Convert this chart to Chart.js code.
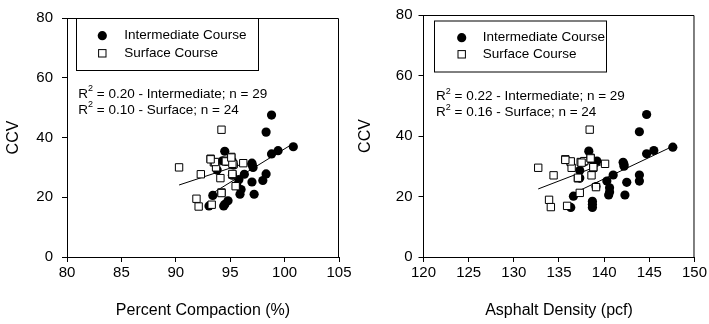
<!DOCTYPE html>
<html>
<head>
<meta charset="utf-8">
<script src="https://cdn.jsdelivr.net/npm/chart.js@4.4.0/dist/chart.umd.min.js"></script>
<style>
  html, body { margin: 0; padding: 0; background: #fff; }
  #wrap { position: relative; width: 709px; height: 324px; }
  canvas { position: absolute; top: 0; }
</style>
</head>
<body>
<div id="wrap">
  <canvas id="left" width="354" height="324" style="left:0"></canvas>
  <canvas id="right" width="355" height="324" style="left:354px"></canvas>
</div>
<script>
// series / labels
const seriesNames = ['Intermediate Course', 'Surface Course']
const yTitle = 'CCV'
const leftTitle = 'Percent Compaction (%)'
const rightTitle = 'Asphalt Density (pcf)'
const leftNotes = [['0.20', 'Intermediate', '29'], ['0.10', 'Surface', '24']]
const rightNotes = [['0.22', 'Intermediate', '29'], ['0.16', 'Surface', '24']]

// left chart: percent compaction vs CCV
const compInterX = [98.8, 98.3, 100.8, 99.4, 98.8, 94.5, 94.3, 95.2, 93.8, 97.0, 97.1, 96.3, 95.8, 98.3, 98.0,
  97.0, 95.9, 97.2, 93.4, 93.05, 94.4, 94.8, 94.6, 95.3, 95.2, 95.6, 97.0, 94.5, 96.0]
const compInterY = [47.5, 41.8, 36.9, 35.6, 34.5, 35.4, 32.2, 32.0, 29.1, 31.4, 30.0, 27.7, 25.9, 27.8, 25.6,
  25.1, 21.0, 21.0, 20.6, 17.1, 17.1, 18.8, 32.0, 30.8, 27.4, 24.0, 31.0, 17.6, 22.6]
const compSurfX = [94.2, 90.3, 92.3, 93.2, 93.5, 93.7, 94.6, 95.1, 95.3, 96.2, 95.2, 94.1, 95.5, 94.2, 91.9,
  92.1, 93.3, 93.6, 94.6, 95.2, 95.1, 93.2, 95.2, 94.2]
const compSurfY = [42.6, 30.0, 27.7, 32.9, 31.7, 30.0, 32.2, 33.5, 31.0, 31.4, 27.6, 26.4, 23.7, 21.6, 19.5,
  16.9, 17.5, 31.8, 32.0, 31.2, 33.3, 32.7, 27.8, 21.4]
const compInterFitX = [93.05, 100.8]
const compInterFitY = [20.6, 38.0]
const compSurfFitX = [90.3, 96.2]
const compSurfFitY = [24.1, 31.2]

// right chart: asphalt density vs CCV
const densInterX = [144.7, 143.9, 147.6, 145.5, 144.7, 138.3, 139.2, 137.3, 142.1, 142.2, 141.0, 140.3, 140.6, 142.5, 140.5,
  142.3, 143.9, 143.9, 136.6, 136.3, 138.7, 138.7, 138.5, 137.8, 140.6, 139.1, 142.2, 138.7, 137.3]
const densInterY = [47.1, 41.4, 36.3, 35.2, 34.1, 35.0, 31.7, 28.6, 31.3, 30.0, 27.1, 25.1, 22.9, 24.7, 20.5,
  20.5, 27.1, 25.1, 20.1, 16.4, 18.4, 16.4, 32.5, 31.5, 21.5, 23.3, 30.6, 17.4, 26.1]
const densSurfX = [138.4, 132.7, 134.4, 135.7, 136.3, 136.4, 137.4, 137.8, 138.5, 138.8, 140.1, 138.6, 137.1, 139.1, 137.3,
  133.9, 134.1, 135.9, 136.3, 137.5, 138.5, 138.8, 137.1, 135.7]
const densSurfY = [42.1, 29.5, 27.0, 32.3, 31.4, 29.5, 31.4, 31.7, 32.8, 29.5, 30.8, 27.0, 26.0, 23.1, 21.2,
  18.9, 16.5, 16.9, 31.6, 31.2, 32.6, 29.7, 26.2, 32.1]
const densInterFitX = [136.3, 147.6]
const densInterFitY = [20.6, 36.6]
const densSurfFitX = [132.7, 140.1]
const densSurfFitY = [22.5, 31.0]

const FONT = "'Liberation Sans', Arial, sans-serif"
Chart.defaults.font.family = FONT
Chart.defaults.color = '#000'

const zip = (xs, ys) => xs.map((x, i) => ({ x: x, y: ys[i] }))

// draws the closed frame, the boxed legend and the R² notes
const extras = {
  id: 'extras',
  afterDraw(chart, args, opts) {
    const ctx = chart.ctx
    const a = chart.chartArea
    ctx.save()
    ctx.strokeStyle = '#000'
    ctx.lineWidth = 1
    ctx.beginPath()
    ctx.moveTo(a.left, a.top + 0.5)
    ctx.lineTo(a.right - 0.5, a.top + 0.5)
    ctx.lineTo(a.right - 0.5, a.bottom)
    ctx.stroke()

    // legend box
    const b = opts.box
    ctx.strokeRect(b[0] + 0.5, b[1] + 0.5, b[2], b[3])
    ctx.fillStyle = '#000'
    ctx.beginPath()
    ctx.arc(opts.markerX, opts.rows[0], 4.6, 0, Math.PI * 2)
    ctx.fill()
    ctx.fillStyle = '#fff'
    ctx.fillRect(opts.markerX - 3.7, opts.rows[1] - 3.7, 7.4, 7.4)
    ctx.strokeRect(opts.markerX - 3.7, opts.rows[1] - 3.7, 7.4, 7.4)
    ctx.fillStyle = '#000'
    ctx.font = '13.5px ' + FONT
    ctx.textBaseline = 'middle'
    ctx.textAlign = 'left'
    ctx.fillText(seriesNames[0], opts.textX, opts.rows[0])
    ctx.fillText(seriesNames[1], opts.textX, opts.rows[1])

    // R² notes
    opts.notes.forEach((n, i) => {
      const y = opts.noteRows[i]
      let x = opts.noteX
      ctx.font = '13.5px ' + FONT
      ctx.fillText('R', x, y)
      x += ctx.measureText('R').width
      ctx.font = '9px ' + FONT
      ctx.fillText('2', x, y - 5)
      x += ctx.measureText('2').width
      ctx.font = '13.5px ' + FONT
      ctx.fillText(' = ' + n[0] + ' - ' + n[1] + '; n = ' + n[2], x, y)
    })
    ctx.restore()
  }
}

function makeChart(id, cfg) {
  const axisGrid = { display: true, drawOnChartArea: false, drawTicks: true, tickLength: 5, color: '#000', lineWidth: 1 }
  return new Chart(document.getElementById(id), {
    type: 'scatter',
    data: {
      datasets: [
        {
          label: seriesNames[0],
          data: zip(cfg.interX, cfg.interY),
          pointStyle: 'circle',
          pointRadius: 4.6,
          backgroundColor: '#000',
          borderColor: '#000',
          borderWidth: 0,
          order: 2
        },
        {
          label: seriesNames[1],
          data: zip(cfg.surfX, cfg.surfY),
          pointStyle: 'rect',
          pointRadius: 5.2,
          backgroundColor: '#fff',
          borderColor: '#000',
          borderWidth: 1,
          order: 1
        },
        {
          data: zip(cfg.interFitX, cfg.interFitY),
          showLine: true,
          pointRadius: 0,
          borderColor: '#000',
          borderWidth: 1,
          order: 3
        },
        {
          data: zip(cfg.surfFitX, cfg.surfFitY),
          showLine: true,
          pointRadius: 0,
          borderColor: '#000',
          borderWidth: 1,
          order: 3
        }
      ]
    },
    options: {
      responsive: false,
      animation: false,
      events: [],
      layout: { padding: { top: 14, right: cfg.padRight, left: 0, bottom: 0 } },
      plugins: {
        legend: { display: false },
        tooltip: { enabled: false },
        extras: cfg.extras
      },
      scales: {
        x: {
          type: 'linear',
          min: cfg.xMin,
          max: cfg.xMax,
          grid: axisGrid,
          border: { display: true, color: '#000', width: 1 },
          ticks: { stepSize: 5, padding: 2, font: { size: 15 }, color: '#000', maxRotation: 0 },
          title: { display: true, text: cfg.xTitle, font: { size: 16 }, color: '#000', padding: { top: 0, bottom: 3.7 } },
          afterFit: (s) => { s.height = 67 }
        },
        y: {
          type: 'linear',
          min: 0,
          max: 80,
          grid: axisGrid,
          border: { display: true, color: '#000', width: 1 },
          ticks: { stepSize: 20, padding: cfg.yTickPad, font: { size: 15 }, color: '#000' },
          title: { display: true, text: yTitle, font: { size: 16 }, color: '#000', padding: { top: cfg.yTitlePad, bottom: 0 } },
          afterFit: (s) => { s.width = cfg.yWidth }
        }
      }
    },
    plugins: [extras]
  })
}

makeChart('left', {
  interX: compInterX, interY: compInterY, surfX: compSurfX, surfY: compSurfY,
  interFitX: compInterFitX, interFitY: compInterFitY, surfFitX: compSurfFitX, surfFitY: compSurfFitY,
  xMin: 80, xMax: 105, xTitle: leftTitle,
  yWidth: 67, padRight: 15, yTickPad: 9, yTitlePad: 4.4,
  extras: { box: [76, 18, 182, 52], markerX: 102.3, rows: [35.7, 53.3], textX: 124.3,
    notes: leftNotes, noteX: 78.3, noteRows: [94, 110] }
})

makeChart('right', {
  interX: densInterX, interY: densInterY, surfX: densSurfX, surfY: densSurfY,
  interFitX: densInterFitX, interFitY: densInterFitY, surfFitX: densSurfFitX, surfFitY: densSurfFitY,
  xMin: 120, xMax: 150, xTitle: rightTitle,
  yWidth: 69.5, padRight: 13, yTickPad: 6, yTitlePad: 2.1,
  extras: { box: [80, 20.5, 172, 51], markerX: 107.7, rows: [37.7, 54.3], textX: 128.7,
    notes: rightNotes, noteX: 82, noteRows: [96.7, 112.7] }
})
</script>
</body>
</html>
